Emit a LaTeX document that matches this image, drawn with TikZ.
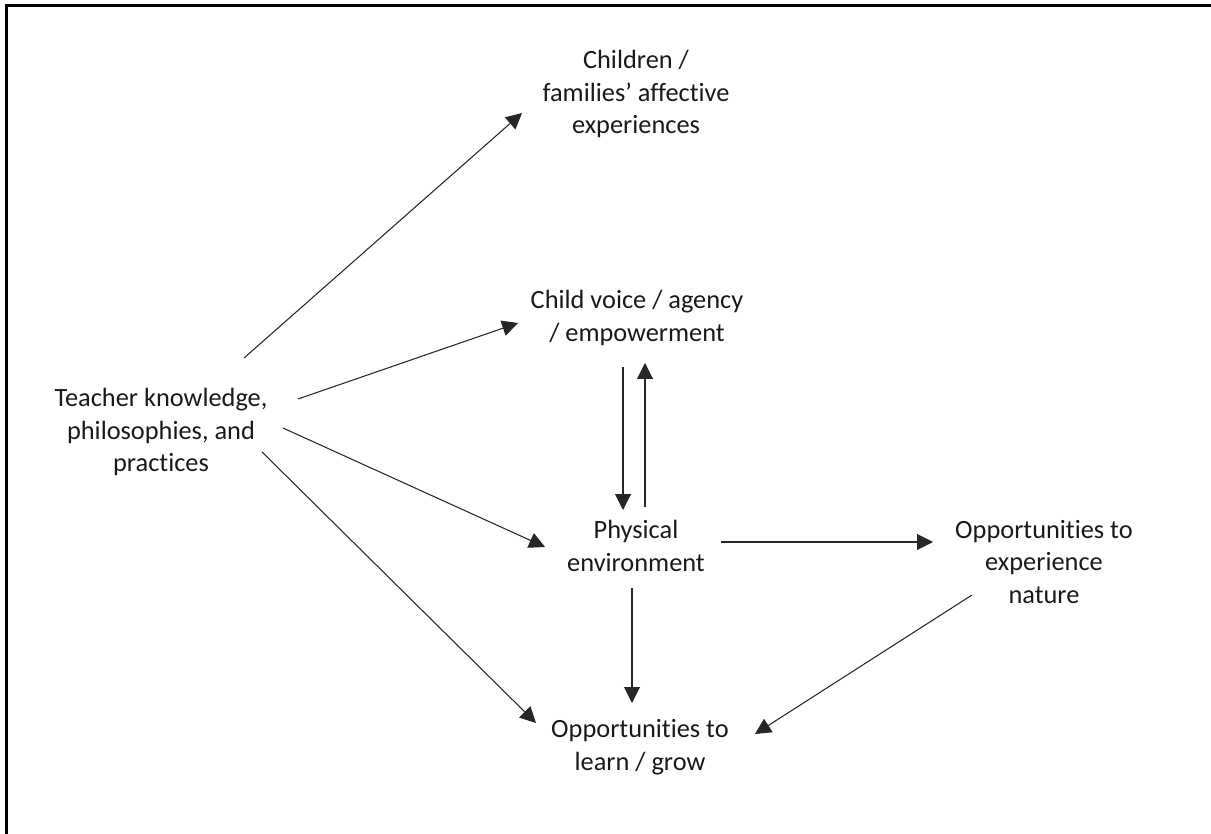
\documentclass[tikz,border=0pt]{standalone}
\usepackage{fontspec}
\setmainfont{Carlito}[Ligatures=NoCommon]
\usetikzlibrary{arrows.meta,calc}
\begin{document}
\begin{tikzpicture}[x=0.02cm,y=-0.02cm,
  lbl/.style={align=center,inner sep=0pt,font=\fontsize{15}{18.7}\selectfont,text=black!90},
  arr/.style={draw=black!85,line width=0.6pt,-{Triangle[length=9pt,width=9pt]}},
  frame/.style={draw=black,line width=1.2pt}]
\useasboundingbox (0,0) rectangle (1211,834);
\draw[frame] (6.5,834) -- (6.5,5.5) -- (1211,5.5);
\node[lbl] (teacher) at (161,432) {Teacher knowledge,\\philosophies, and\\practices};
\node[lbl] (children) at (636,94) {Children /\\families' affective\\experiences};
\node[lbl] (voice) at (637,318) {Child voice / agency\\/ empowerment};
\node[lbl] (phys) at (636,546) {Physical\\environment};
\node[lbl] (nature) at (1044,562) {Opportunities to\\experience\\nature};
\node[lbl] (learn) at (640,747) {Opportunities to\\learn / grow};
\draw[arr] ($(teacher.center)+(83,-74)$) -- ($(children.center)+(-114,19)$);
\draw[arr] ($(teacher.center)+(137,-33)$) -- ($(voice.center)+(-119,5)$);
\draw[arr] ($(teacher.center)+(122,-4)$) -- ($(phys.center)+(-91,1)$);
\draw[arr] ($(teacher.center)+(101,20)$) -- ($(learn.center)+(-104,-24)$);
\draw[arr] ($(voice.center)+(-14,49)$) -- ($(phys.center)+(-13,-36)$);
\draw[arr] ($(phys.center)+(9,-39)$) -- ($(voice.center)+(8,45)$);
\draw[arr] ($(phys.center)+(85,-4)$) -- ($(nature.center)+(-111,-20)$);
\draw[arr] ($(phys.center)+(-4,42)$) -- ($(learn.center)+(-8,-44)$);
\draw[arr] ($(nature.center)+(-72,33)$) -- ($(learn.center)+(115,-13)$);
\end{tikzpicture}
\end{document}
